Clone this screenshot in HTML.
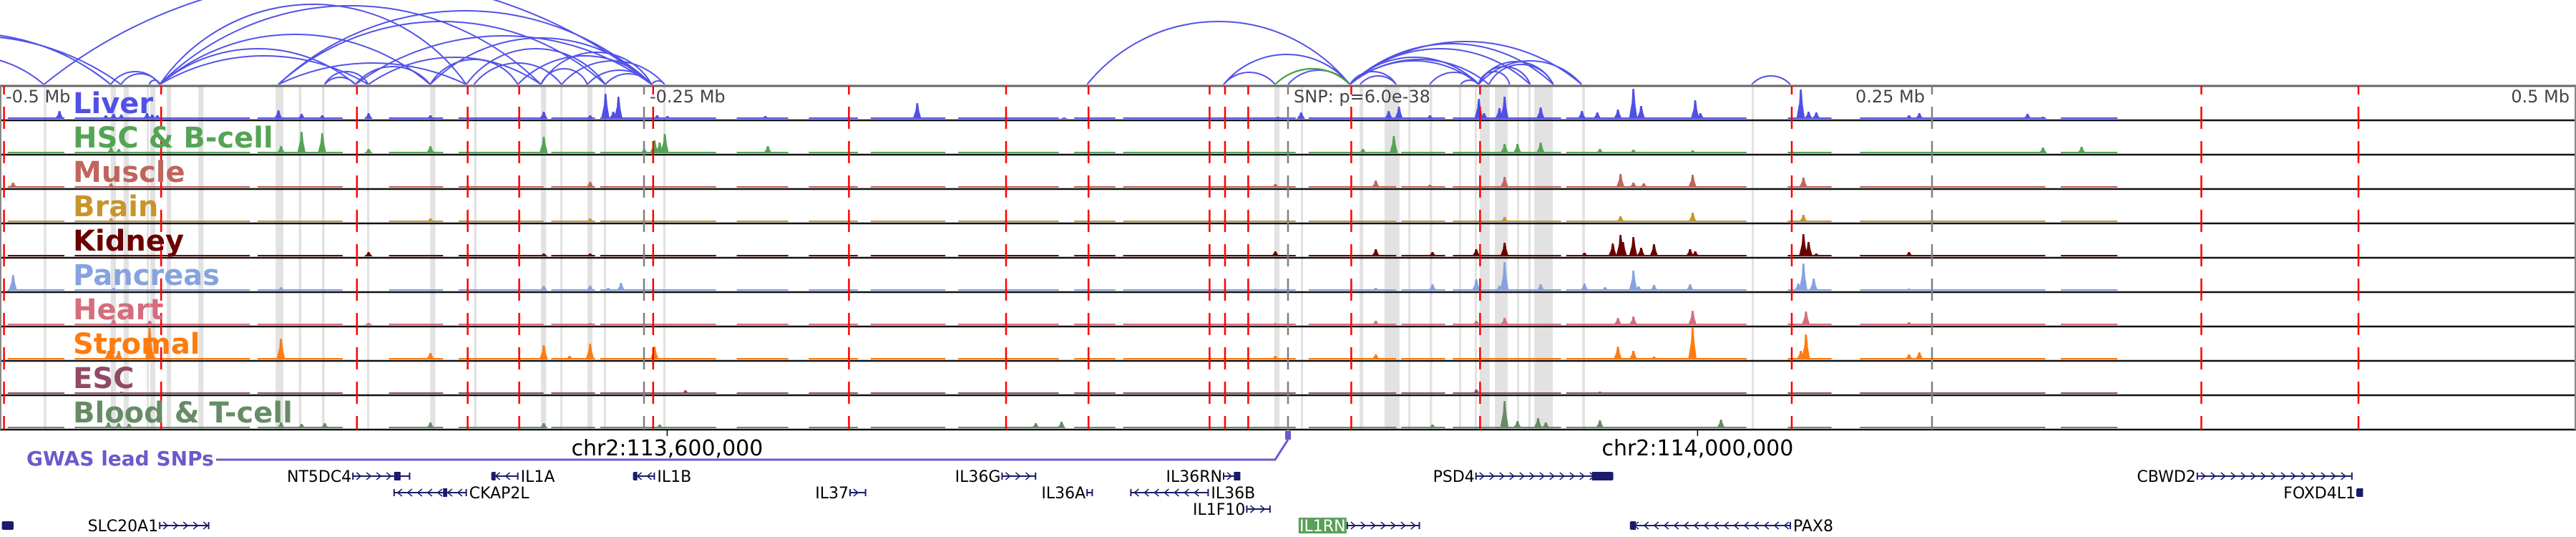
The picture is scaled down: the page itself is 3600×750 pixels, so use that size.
<!DOCTYPE html>
<html><head><meta charset="utf-8"><title>IL1RN locus tracks</title>
<style>
html,body{margin:0;padding:0;background:#fff;}
svg{display:block;}
text{font-family:"DejaVu Sans","Liberation Sans",sans-serif;}
</style></head>
<body>
<svg id="chart" xmlns="http://www.w3.org/2000/svg" width="3600" height="750" viewBox="0 0 3600 750"></svg>
<script>
// ---------- DATA (positions in kb from window start; window = 1000 kb) ----------
const trackNames = ["Liver","HSC & B-cell","Muscle","Brain","Kidney","Pancreas","Heart","Stromal","ESC","Blood & T-cell"];
const trackColors = ["#5050e6","#55a455","#c0655c","#c8942c","#6b0000","#86a3e0","#d46e7e","#ff7b0f","#924a66","#668c66"];
const liverPeaks = [[23,11],[41,5],[44,7],[47,6],[57,8],[59,6],[61,5],[108,12],[117,7],[125,5],[143,8],[167,5],[211,10],[229,5],[235,35],[238,10],[240,31],[255,5],[259,4],[297,4],[356,22],[413,2],[496,3],[505,9],[539,11],[543,17],[555,5],[574,28],[576,8],[582,15],[584,31],[598,16],[614,11],[620,9],[628,13],[634,42],[637,18],[658,26],[660,8],[699,41],[702,10],[705,9],[741,5],[745,8],[787,7],[793,3]];
const hscPeaks = [[43,8],[46,6],[109,10],[117,30],[125,28],[143,6],[167,10],[211,23],[250,6],[254,18],[256,15],[258,27],[298,10],[529,6],[541,24],[584,13],[589,13],[598,15],[621,6],[634,5],[657,4],[793,8],[808,9]];
const musclePeaks = [[5,7],[43,6],[229,8],[495,5],[534,10],[555,4],[584,15],[629,19],[634,7],[638,6],[657,18],[700,14]];
const brainPeaks = [[43,5],[167,5],[229,5],[584,7],[629,8],[657,13],[700,10]];
const kidneyPeaks = [[143,6],[211,4],[229,4],[495,7],[534,10],[556,6],[573,10],[584,19],[615,5],[626,18],[629,30],[630,20],[634,27],[637,12],[642,17],[656,10],[658,7],[700,31],[702,20],[705,4],[741,6]];
const pancreasPeaks = [[5,22],[44,4],[109,5],[211,7],[229,7],[236,4],[241,11],[495,3],[534,4],[556,9],[573,16],[582,7],[584,40],[598,9],[615,10],[623,5],[634,28],[636,6],[642,8],[656,9],[698,10],[700,38],[704,17],[741,3]];
const heartPeaks = [[44,8],[58,6],[143,3],[229,3],[495,3],[534,6],[573,6],[584,10],[628,10],[634,12],[657,20],[701,19],[741,4]];
const stromalPeaks = [[42,12],[43,20],[46,12],[58,44],[59,10],[109,29],[167,9],[211,20],[221,5],[229,22],[254,18],[495,5],[534,7],[628,18],[634,12],[642,4],[657,45],[699,12],[701,35],[741,7],[745,10]];
const escPeaks = [[47,3],[266,5],[573,6],[621,3]];
const bloodPeaks = [[42,8],[46,7],[50,6],[109,8],[117,6],[126,7],[167,8],[211,7],[256,5],[402,7],[412,9],[556,5],[584,38],[589,10],[597,14],[600,8],[621,11],[668,12]];
const allPeaks = [liverPeaks,hscPeaks,musclePeaks,brainPeaks,kidneyPeaks,pancreasPeaks,heartPeaks,stromalPeaks,escPeaks,bloodPeaks];
const backgroundSegments = [[3,25],[29,97],[100,133],[151,172],[178,211],[214,231],[233,278],[286,306],[314,333],[338,367],[372,411],[417,433],[436,472],[472,503],[508,542],[544,561],[564,606],[608,678],[694,711],[722,750],[750,794],[800,822]];
const grayBands = [[17,18],[43,45],[48,50],[57,57.6],[58.3,60.3],[64.7,66.4],[77,79],[107,110],[116,117],[125,126],[142.5,143.3],[167,169],[184,185],[210,212],[217.5,218.3],[228,230],[234.4,235.3],[257.5,258.3],[494.7,496.7],[505,505.8],[527.8,529.2],[537.5,543.3],[546.7,547.5],[555,556],[566.4,567.2],[572.5,573.3],[574.4,578.3],[580.3,585.3],[588.9,589.7],[593.3,594.2],[595.6,602.8],[614.2,615.3],[680,680.8]];
const redLines = [1,62,138,181,201,253,329,390,422,469,475,484,524,574,695,854,915];
const quarterMarks = [250,500,750];
const axisLabels = ["-0.5 Mb","-0.25 Mb","SNP: p=6.0e-38","0.25 Mb","0.5 Mb"];
const axisLabelPos = [0,250,500,750,1000];
const arcsBlue = [[-69,43,72],[-69,47,68],[-42,17,40],[17,253,150],[43,62,18],[47,62,15],[58,62,6],[62,181,112],[62,210,110],[62,138,50],[62,167,70],[62,143,40],[108,181,30],[108,253,103],[108,235,88],[138,253,68],[143,210,38],[126,138,10],[126,143,18],[138,167,25],[167,253,65],[181,235,50],[184,218,30],[201,253,40],[210,228,22],[210,253,45],[228,253,20],[218,258,33],[253,258,5],[167,201,35],[235,253,15],[422,524,88],[475,524,42],[475,495,17],[500,524,20],[524,614,60],[524,603,57],[524,594,50],[524,574,38],[524,578,35],[524,574,33],[524,542,18],[528,542,12],[555,574,17],[567,574,6],[574,603,32],[574,614,33],[574,594,25],[578,603,28],[574,586,18],[680,695,12]];
const arcsGreen = [[495,524,22]];
const snpPos = 500;
const chrTicks = [259, 659];
const chrTickLabels = ["chr2:113,600,000","chr2:114,000,000"];
const geneNames = ["NT5DC4","IL1A","IL1B","CKAP2L","IL37","SLC20A1","","IL36G","IL36A","IL36RN","IL36B","IL1F10","IL1RN","PSD4","PAX8","CBWD2","FOXD4L1"];
const geneStarts = [137,191,246,153,330,62,1,389,422,475,439,484,523,573,633,853,915];
const geneEnds   = [159,201,254,181,336,81,5,402,424,481,469,493,551,626,695,913,917];
const geneStrand = [1,-1,-1,-1,1,1,1,1,1,1,-1,1,1,1,-1,1,1];
const geneRow    = [0,0,0,1,1,3,3,0,1,0,1,2,3,0,3,0,1];
const exons = [[1,5],[153,155.5],[172,173.6],[191,192.2],[246,247],[479,481.5],[618,626],[633,635],[915,917.3]];

// ---------- helpers ----------
const NS="http://www.w3.org/2000/svg";
const svg=document.getElementById('chart');
const xs = kb => kb*3.6;
const TRACK_TOP=120, TRACK_H=48;
const ROW_Y=[665,688,711,734];
function mk(tag, attrs, parent){const e=document.createElementNS(NS,tag);for(const k in attrs)e.setAttribute(k,attrs[k]);(parent||svg).appendChild(e);return e;}

// ---------- arcs ----------
const defs=mk('defs',{});
const clip=mk('clipPath',{id:'arcclip'},defs);
mk('rect',{x:0,y:0,width:3600,height:118},clip);
const arcG=mk('g',{'clip-path':'url(#arcclip)'});


function drawArc(a,color,w){
  const x1=xs(a[0]),x2=xs(a[1]),h=a[2],base=118;
  const c=x2-x1;
  const R=(c*c/4+h*h)/(2*h);
  const large = h>c/2 ? 1 : 0;
  const p=mk('path',{d:`M${x1},${base} A${R},${R} 0 ${large} 1 ${x2},${base}`,fill:'none',stroke:color,'stroke-width':w},arcG);
  
  
}
arcsBlue.forEach(a=>drawArc(a,'#5252e8',2));
arcsGreen.forEach(a=>drawArc(a,'#4a9a4a',2.2));

// ---------- gray bands ----------
const bandG=mk('g',{});


grayBands.forEach(b=>{
  const r=mk('rect',{x:xs(b[0]),y:TRACK_TOP,width:Math.max(3,xs(b[1])-xs(b[0])),height:TRACK_H*10,fill:'#e2e2e2'},bandG);
  
  
});

// ---------- signal tracks ----------
trackNames.forEach((name,i)=>{
  const top=TRACK_TOP+i*TRACK_H, base=top+TRACK_H-2;
  const g=mk('g',{});
  
  
  const col=trackColors[i];
  backgroundSegments.forEach(s=>{
    const r=mk('rect',{x:xs(s[0]),y:base-2,width:xs(s[1])-xs(s[0]),height:2,fill:col},g);
    
    
  });
  allPeaks[i].forEach(pk=>{
    const x=xs(pk[0]),h=Math.min(pk[1],TRACK_H-3);
    const p=mk('polygon',{points:`${x-6},${base} ${x-2},${base-h*0.55} ${x-1},${base-h} ${x+1.5},${base-h} ${x+3},${base-h*0.5} ${x+6},${base}`,fill:col},g);
    
    
  });
  const ln=mk('line',{x1:0,x2:3600,y1:top+TRACK_H,y2:top+TRACK_H,stroke:'#111','stroke-width':2.5},g);
  
  
});
const topBorder=mk('line',{x1:0,x2:3600,y1:TRACK_TOP,y2:TRACK_TOP,stroke:'#666','stroke-width':3});


const leftBorder=mk('line',{x1:1,x2:1,y1:TRACK_TOP,y2:TRACK_TOP+TRACK_H*10,stroke:'#888','stroke-width':2});


const rightBorder=mk('line',{x1:3599,x2:3599,y1:TRACK_TOP,y2:TRACK_TOP+TRACK_H*10,stroke:'#888','stroke-width':2});



// ---------- vertical marker lines ----------
quarterMarks.forEach(q=>{
  const l=mk('line',{x1:xs(q),x2:xs(q),y1:TRACK_TOP,y2:TRACK_TOP+TRACK_H*10,stroke:'#808080','stroke-width':2.5,'stroke-dasharray':'31 17','stroke-dashoffset':19});
  
  
});
redLines.forEach(r=>{
  const l=mk('line',{x1:xs(r)+2,x2:xs(r)+2,y1:TRACK_TOP,y2:TRACK_TOP+TRACK_H*10,stroke:'#ff0000','stroke-width':2.5,'stroke-dasharray':'31 17','stroke-dashoffset':19});
  
  
});

// ---------- track labels ----------
trackNames.forEach((name,i)=>{
  const t=mk('text',{x:102,y:TRACK_TOP+i*TRACK_H+38,fill:trackColors[i],'font-size':40,'font-weight':'bold'});
  t.textContent=name;
  
  
});

// ---------- axis labels ----------
axisLabels.forEach((lab,i)=>{
  const p=axisLabelPos[i];
  let anchor='start', x=xs(p)+8;
  if(i===3){anchor='end';x=xs(p)-10;}
  if(i===4){anchor='end';x=xs(p)-9;}
  const t=mk('text',{x:x,y:143,fill:'#444','font-size':24,'text-anchor':anchor});
  t.textContent=lab;
  
  
});

// ---------- chromosome ticks ----------
chrTicks.forEach((c,i)=>{
  const l=mk('line',{x1:xs(c),x2:xs(c),y1:600,y2:609,stroke:'#000','stroke-width':1.5});
  
  
  const t=mk('text',{x:xs(c),y:636,'font-size':30,'text-anchor':'middle',fill:'#000'});
  t.textContent=chrTickLabels[i];
  
  
});

// ---------- GWAS lead SNP ----------
const gw=mk('text',{x:37,y:650,'font-size':28,'font-weight':'bold',fill:'#6a5acd'});
gw.textContent='GWAS lead SNPs';


const snpX=xs(snpPos);
const gl=mk('polyline',{points:`302,642 ${snpX-18},642 ${snpX},614`,fill:'none',stroke:'#6a5acd','stroke-width':3});


const sm=mk('rect',{x:snpX-4,y:602,width:8,height:12,fill:'#6a5acd'});



// ---------- genes ----------
const navy='#1a1a6e';
geneNames.forEach((name,i)=>{
  const g=mk('g',{});
  
  
  const x1=xs(geneStarts[i]),x2=xs(geneEnds[i]),y=ROW_Y[geneRow[i]],s=geneStrand[i];
  mk('line',{x1:x1,x2:x2,y1:y,y2:y,stroke:navy,'stroke-width':2},g);
  mk('line',{x1:x1,x2:x1,y1:y-5,y2:y+5,stroke:navy,'stroke-width':2},g);
  mk('line',{x1:x2,x2:x2,y1:y-5,y2:y+5,stroke:navy,'stroke-width':2},g);
  for(let cx=x1+8;cx<x2-4;cx+=14){
    const d=s>0?`M${cx-3},${y-5} L${cx+3},${y} L${cx-3},${y+5}`:`M${cx+3},${y-5} L${cx-3},${y} L${cx+3},${y+5}`;
    mk('path',{d:d,fill:'none',stroke:navy,'stroke-width':1.5},g);
  }
  if(name){
    const labelRight = s<0;
    if(name==='IL1RN'){
      const bw=67;
      const r=mk('rect',{x:x1-bw-1,y:y-11,width:bw,height:22,fill:'#5aa05a'},g);
      
      
      const t=mk('text',{x:x1-bw/2-1,y:y+8,'font-size':22,'text-anchor':'middle',fill:'#fff'},g);
      t.textContent=name;
      
      
    } else {
      const t=mk('text',{x:labelRight?x2+4:x1-2,y:y+8,'font-size':22,'text-anchor':labelRight?'start':'end',fill:'#000'},g);
      t.textContent=name;
      
      
    }
  }
});
exons.forEach(e=>{
  let row=0;
  for(let i=0;i<geneStarts.length;i++){ if(e[0]>=geneStarts[i]-0.5 && e[1]<=geneEnds[i]+0.6){row=geneRow[i];break;} }
  const r=mk('rect',{x:xs(e[0]),y:ROW_Y[row]-6,width:Math.max(5,xs(e[1])-xs(e[0])),height:12,fill:navy});
  
  
});
</script>
</body></html>
